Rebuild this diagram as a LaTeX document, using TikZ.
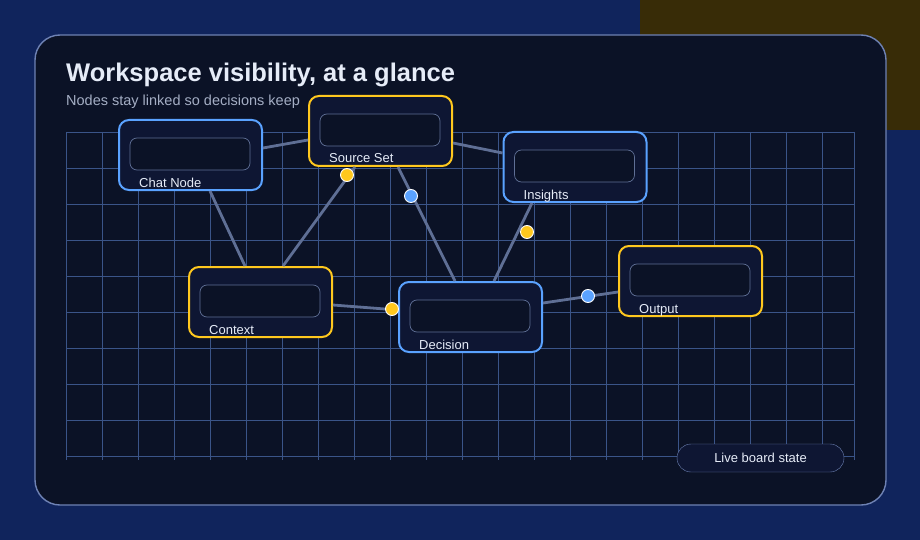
\documentclass[tikz,border=0pt]{standalone}
\usepackage{fontspec}
\setmainfont{Liberation Sans}
\usetikzlibrary{positioning,calc}
\definecolor{bgdeep}{HTML}{0B1226}
\definecolor{bgout}{HTML}{10245C}
\definecolor{cardfill}{HTML}{0E1633}
\definecolor{gridc}{HTML}{3A5488}
\definecolor{edgec}{HTML}{5F6F95}
\definecolor{blueb}{HTML}{5AA2FF}
\definecolor{yellowb}{HTML}{FFC81E}
\definecolor{framec}{HTML}{6E82B4}
\definecolor{subc}{HTML}{A4AEC4}
\definecolor{txtc}{HTML}{E6ECF8}
\tikzset{
  card/.style={draw=#1,line width=2pt,fill=cardfill,rounded corners=10pt,
    minimum width=143pt,minimum height=70pt,inner sep=0pt},
  slot/.style={draw=edgec,line width=0.7pt,rounded corners=7pt,fill=bgdeep},
  tag/.style={text=txtc,font=\fontsize{13}{13}\selectfont,anchor=base west,inner sep=0pt},
  link/.style={draw=edgec,line width=2.8pt},
  dot/.style={circle,fill=#1,draw=white,line width=0.9pt,inner sep=0pt,minimum size=13pt}
}
\begin{document}
\begin{tikzpicture}[x=1pt,y=-1pt]
	\useasboundingbox (0,0) rectangle (920,540);
	\fill[bgout] (0,0) rectangle (920,540);
	\fill[yellowb!22!black] (640,0) rectangle (920,130);
	\fill[bgdeep,rounded corners=25pt,draw=framec,line width=1.4pt] (35,35) rectangle (886,505);
	% grid
	\foreach \gx in {66,102,...,850} \draw[gridc,line width=0.8pt] (\gx,132) -- (\gx,460);
	\draw[gridc,line width=0.8pt] (854,132) -- (854,460);
	\foreach \gy in {132,168,...,460} \draw[gridc,line width=0.8pt] (66,\gy) -- (854,\gy);
	\node[anchor=base west,inner sep=0pt,text=txtc,font=\bfseries\fontsize{25.5}{26}\selectfont] (title) at (66,82) {Workspace visibility, at a glance};
	\node[anchor=base west,inner sep=0pt,text=subc,font=\fontsize{14.5}{15}\selectfont] (sub) at (66,106) {Nodes stay linked so decisions keep};
	% cards
	\node[card=blueb] (chat) at (190.5,155) {};
	\node[card=yellowb] (source) at (380.5,131) {};
	\node[card=blueb] (insights) at (575,167) {};
	\node[card=yellowb] (context) at (260.5,302) {};
	\node[card=blueb] (decision) at (470.5,317) {};
	\node[card=yellowb] (output) at (690.5,281) {};
	% links
	\draw[link] (chat.east|-0,148) -- (source.west|-0,140);
	\draw[link] (source.east|-0,143) -- (insights.west|-0,153);
	\draw[link] (chat.south-|210,0) -- (context.north-|245,0);
	\draw[link] (context.north-|283,0) -- (source.south-|355,0);
	\draw[link] (source.south-|398,0) -- (decision.north-|455,0);
	\draw[link] (decision.north-|494,0) -- (insights.south-|532,0);
	\draw[link] (context.east|-0,305) -- (decision.west|-0,310);
	\draw[link] (decision.east|-0,303) -- (output.west|-0,292);
	% slots and tags
	\foreach \c/\t in {chat/Chat Node,source/Source Set,insights/Insights,context/Context,decision/Decision,output/Output}{
	  \draw[slot] ($(\c.north west)+(12,19)$) rectangle ($(\c.north east)+(-13,51)$);
	  \node[tag] at ($(\c.north west)+(21,68)$) {\t};
	}
	% dots
	\node[dot=yellowb] (d1) at (347,175) {};
	\node[dot=blueb] (d2) at (411,196) {};
	\node[dot=yellowb] (d3) at (527,232) {};
	\node[dot=yellowb] (d4) at (392,309) {};
	\node[dot=blueb] (d5) at (588,296) {};
	% badge
	\node[draw=framec,fill=cardfill,rounded corners=14pt,minimum width=167pt,minimum height=28pt,
	  text=txtc,font=\fontsize{13}{13}\selectfont] (badge) at (760.5,458) {Live board state};
\end{tikzpicture}
\end{document}
